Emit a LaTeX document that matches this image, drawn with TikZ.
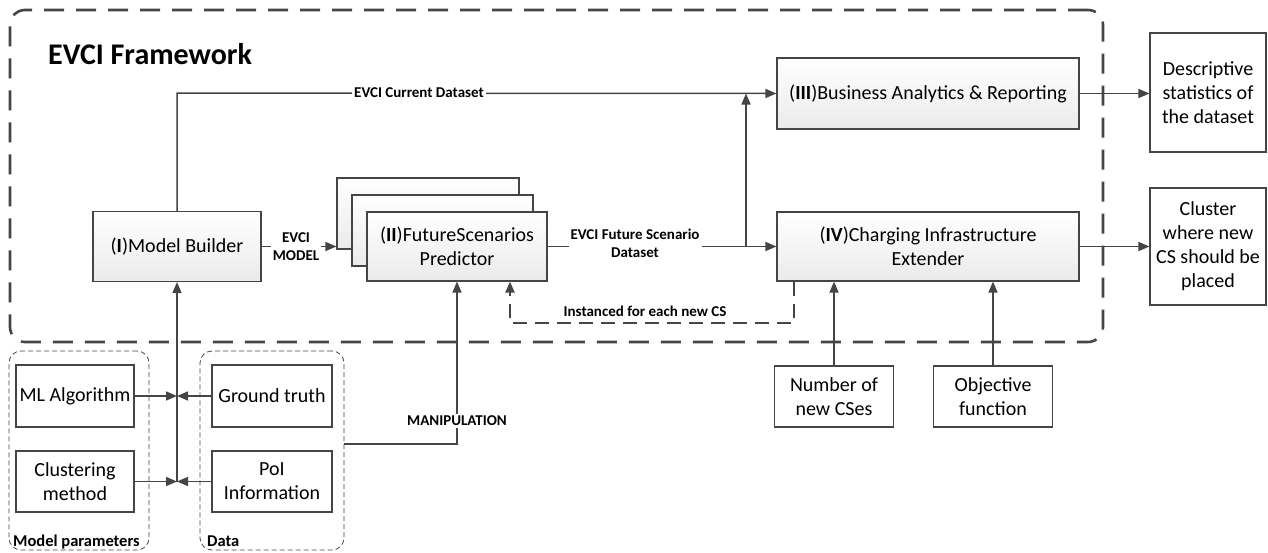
\documentclass[tikz,border=0pt]{standalone}
\usepackage{fontspec}
\setmainfont{Carlito}
\usetikzlibrary{arrows.meta}
\definecolor{ln}{HTML}{454545}
\begin{document}
\begin{tikzpicture}[x=1pt,y=-1pt,
  every node/.style={inner sep=0pt},
  gbox/.style={draw=ln, line width=1.1pt, top color=white, bottom color=gray!16, align=center,
    font=\fontsize{20}{24}\selectfont},
  wbox/.style={draw=ln, line width=1.1pt, fill=white, align=center,
    font=\fontsize{20}{24}\selectfont},
  grp/.style={draw=ln, line width=0.8pt, dash pattern=on 5pt off 3pt, rounded corners=12pt},
  frame/.style={draw=ln, line width=2.6pt, dash pattern=on 20pt off 12pt, rounded corners=15pt},
  arr/.style={draw=ln, line width=1.5pt, -{Triangle[length=11pt,width=9pt]}},
  dl/.style={draw=ln, line width=2pt, dash pattern=on 14pt off 8pt, -{Triangle[length=11pt,width=9pt]}},
  lbl/.style={font=\bfseries\fontsize{15}{18}\selectfont, fill=white, inner sep=2pt, align=center},
  glbl/.style={font=\bfseries\fontsize{16.5}{19}\selectfont}
]
\useasboundingbox (0,0) rectangle (1268,552);

% framework frame
\node[frame, minimum width=1093pt, minimum height=332pt] (fw) at (556.5,176) {};
\node[font=\bfseries\fontsize{30}{35}\selectfont, anchor=base west] (title) at (48,64) {EVCI Framework};

% main blocks
\node[gbox, minimum width=168pt, minimum height=70pt] (mb) at (177,246.5) {(\textbf{I})Model Builder};
\node[gbox, minimum width=182pt, minimum height=71pt] (fsp3) at (428,213.5) {};
\node[gbox, minimum width=181pt, minimum height=71pt] (fsp2) at (442.5,230.5) {};
\node[gbox, minimum width=180pt, minimum height=69pt] (fsp) at (457,246.5) {(\textbf{II})FutureScenarios\\Predictor};
\node[gbox, minimum width=302pt, minimum height=71pt] (ba) at (928,93.5) {(\textbf{III})Business Analytics \& Reporting};
\node[gbox, minimum width=302pt, minimum height=69pt] (ci) at (928,246.5) {(\textbf{IV})Charging Infrastructure\\Extender};

% outputs
\node[wbox, minimum width=116pt, minimum height=119pt] (desc) at (1208,92.5) {Descriptive\\statistics of\\the dataset};
\node[wbox, minimum width=116pt, minimum height=117pt] (clus) at (1208,246.5) {Cluster\\where new\\CS should be\\placed};

% inputs to IV
\node[wbox, minimum width=119pt, minimum height=61pt] (ncs) at (834,396.5) {Number of\\new CSes};
\node[wbox, minimum width=119pt, minimum height=61pt] (obj) at (993,396.5) {Objective\\function};

% groups
\node[grp, minimum width=140pt, minimum height=199pt] (mp) at (79,450.5) {};
\node[grp, minimum width=144pt, minimum height=199pt] (dat) at (272,450.5) {};
\node[glbl, anchor=base west] (mpl) at (13,546) {Model parameters};
\node[glbl, anchor=base west] (datl) at (207,546) {Data};

\node[wbox, minimum width=118pt, minimum height=62pt] (mla) at (75,396) {ML Algorithm};
\node[wbox, minimum width=118pt, minimum height=61pt] (clm) at (75,481.5) {Clustering\\method};
\node[wbox, minimum width=120pt, minimum height=62pt] (gt) at (272,396) {Ground truth};
\node[wbox, minimum width=120pt, minimum height=61pt] (poi) at (272,481.5) {PoI\\Information};

% junction coordinates
\coordinate (ja) at (177,396);
\coordinate (jb) at (177,481.5);
\coordinate (top) at (177,93);
\coordinate (jf) at (746,246.5);
\coordinate (jt) at (746,93.5);
\coordinate (m1) at (457,444);
\coordinate (dA) at (794,323);
\coordinate (dB) at (510,323);

% connectors
\draw[arr] (mb.north) -- (top) -- (ba.west);
\node[lbl] (lcur) at (419,93) {EVCI Current Dataset};

\draw[arr] (mb.east) -- (mb.east -| fsp3.west);
\node[lbl] (lmod) at (296,247) {EVCI\\MODEL};

\draw[arr] (fsp.east) -- (ci.west);
\node[lbl] (lfut) at (635,243) {EVCI Future Scenario\\Dataset};
\draw[arr] (jf) -- (jt);

\draw[arr] (ba.east) -- (ba.east -| desc.west);
\draw[arr] (ci.east) -- (clus.west);

\draw[arr] (ncs.north) -- (ncs.north |- ci.south);
\draw[arr] (obj.north) -- (obj.north |- ci.south);

\draw[dl] (dA |- ci.south) -- (dA) -- (dB) -- (dB |- fsp.south);
\node[font=\bfseries\fontsize{15}{18}\selectfont] (linst) at (645,311) {Instanced for each new CS};

\draw[arr] (m1 -| dat.east) -- (m1) -- (m1 |- fsp.south);
\node[lbl] (lman) at (457,421) {MANIPULATION};

\draw[arr] (jb) -- (mb.south);
\draw[arr] (mla.east) -- (ja);
\draw[arr] (gt.west) -- (ja);
\draw[arr] (clm.east) -- (jb);
\draw[arr] (poi.west) -- (jb);
\end{tikzpicture}
\end{document}
